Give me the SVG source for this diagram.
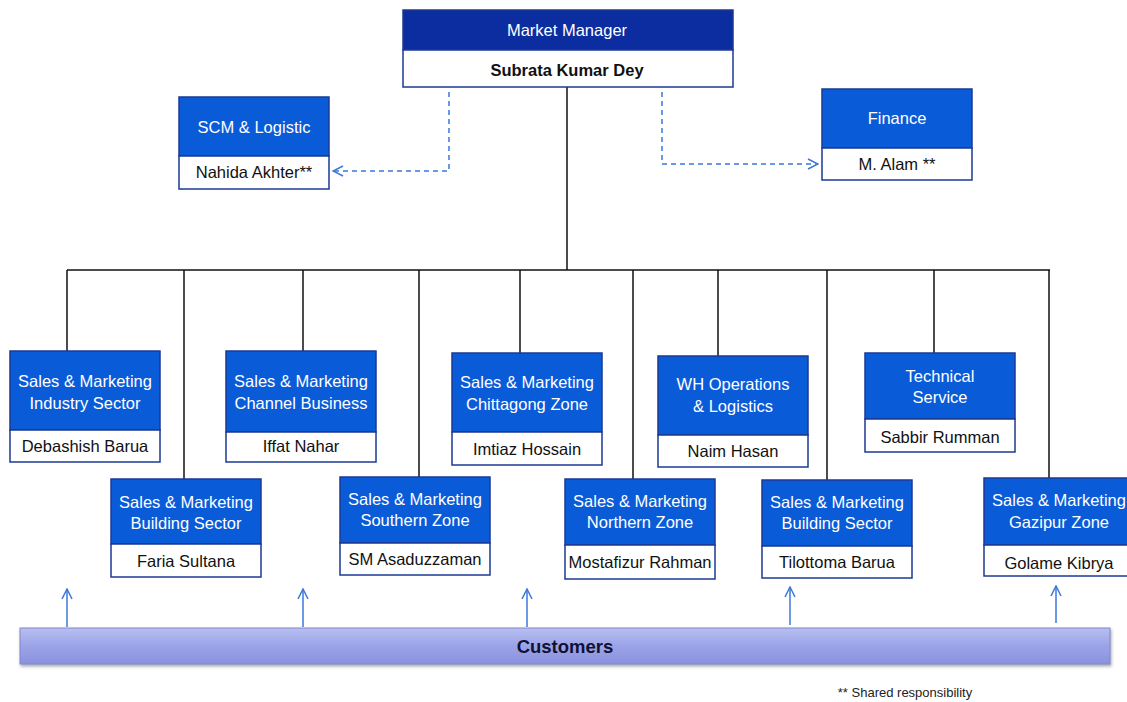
<svg xmlns="http://www.w3.org/2000/svg" width="1127" height="702" viewBox="0 0 1127 702">
<defs>
<style>
.hd{fill:#0a5bd8;stroke:#1b3a95;stroke-width:1.5}
.hd2{fill:#0b2d9f;stroke:#1b3a95;stroke-width:1.5}
.nm{fill:#ffffff;stroke:#1b3a95;stroke-width:1.5}
.t{font-family:"Liberation Sans",Arial,sans-serif;font-size:16.5px;fill:#ffffff;text-anchor:middle}
.n{font-family:"Liberation Sans",Arial,sans-serif;font-size:16.5px;fill:#111111;text-anchor:middle}
.ln{stroke:#111111;stroke-width:1.5;fill:none}
.dash{stroke:#3b78d8;stroke-width:1.5;fill:none;stroke-dasharray:5,4}
.up{stroke:#3b78d8;stroke-width:1.5;fill:none}
</style>
<marker id="open" viewBox="0 0 12 12" refX="11" refY="6" markerWidth="12" markerHeight="12" markerUnits="userSpaceOnUse" orient="auto">
<path d="M1,1 L11,6 L1,11" fill="none" stroke="#3b78d8" stroke-width="1.5"/>
</marker>
<linearGradient id="cust" x1="0" y1="0" x2="0" y2="1">
<stop offset="0" stop-color="#b8bff0"/>
<stop offset="0.5" stop-color="#9ba3e8"/>
<stop offset="1" stop-color="#8a92de"/>
</linearGradient>
<filter id="sh" x="-5%" y="-20%" width="110%" height="160%">
<feDropShadow dx="1" dy="2" stdDeviation="1.5" flood-color="#555" flood-opacity="0.5"/>
</filter>
</defs>
<rect width="1127" height="702" fill="#ffffff"/>

<g id="connectors">
<path class="ln" d="M567,87 V270"/>
<path class="ln" d="M67,270 H1050"/>
<path class="ln" d="M67,270 V351"/>
<path class="ln" d="M184,270 V479"/>
<path class="ln" d="M303,270 V351"/>
<path class="ln" d="M419,270 V477"/>
<path class="ln" d="M520,270 V353"/>
<path class="ln" d="M633,270 V479"/>
<path class="ln" d="M718,270 V356"/>
<path class="ln" d="M827,270 V480"/>
<path class="ln" d="M934,270 V353"/>
<path class="ln" d="M1049,270 V478"/>
<path class="dash" d="M449,92 V171 H333" marker-end="url(#open)"/>
<path class="dash" d="M662,92 V164 H818" marker-end="url(#open)"/>
<path class="up" d="M67,627 V589" marker-end="url(#open)"/>
<path class="up" d="M303,627 V589" marker-end="url(#open)"/>
<path class="up" d="M527,627 V589" marker-end="url(#open)"/>
<path class="up" d="M790,625 V587" marker-end="url(#open)"/>
<path class="up" d="M1056,623 V586" marker-end="url(#open)"/>
</g>

<g id="market-manager">
<rect class="hd2" x="403" y="10" width="330" height="40"/>
<rect class="nm" x="403" y="50" width="330" height="37"/>
<text class="t" x="567" y="36">Market Manager</text>
<text class="n" x="567" y="76" font-weight="bold">Subrata Kumar Dey</text>
</g>

<g id="scm">
<rect class="hd" x="179" y="97" width="150" height="59"/>
<rect class="nm" x="179" y="156" width="150" height="33"/>
<text class="t" x="254" y="133">SCM &amp; Logistic</text>
<text class="n" x="254" y="178">Nahida Akhter**</text>
</g>

<g id="finance">
<rect class="hd" x="822" y="89" width="150" height="59"/>
<rect class="nm" x="822" y="148" width="150" height="32"/>
<text class="t" x="897" y="124">Finance</text>
<text class="n" x="897" y="170">M. Alam **</text>
</g>

<g id="industry-sector">
<rect class="hd" x="10" y="351" width="150" height="79"/>
<rect class="nm" x="10" y="430" width="150" height="32"/>
<text class="t" x="85" y="387">Sales &amp; Marketing</text>
<text class="t" x="85" y="409">Industry Sector</text>
<text class="n" x="85" y="452">Debashish Barua</text>
</g>

<g id="building-sector-1">
<rect class="hd" x="111" y="479" width="150" height="65"/>
<rect class="nm" x="111" y="544" width="150" height="33"/>
<text class="t" x="186" y="508">Sales &amp; Marketing</text>
<text class="t" x="186" y="529">Building Sector</text>
<text class="n" x="186" y="567">Faria Sultana</text>
</g>

<g id="channel-business">
<rect class="hd" x="226" y="351" width="150" height="81"/>
<rect class="nm" x="226" y="432" width="150" height="30"/>
<text class="t" x="301" y="387">Sales &amp; Marketing</text>
<text class="t" x="301" y="409">Channel Business</text>
<text class="n" x="301" y="452">Iffat Nahar</text>
</g>

<g id="southern-zone">
<rect class="hd" x="340" y="477" width="150" height="66"/>
<rect class="nm" x="340" y="543" width="150" height="32"/>
<text class="t" x="415" y="505">Sales &amp; Marketing</text>
<text class="t" x="415" y="526">Southern Zone</text>
<text class="n" x="415" y="565">SM Asaduzzaman</text>
</g>

<g id="chittagong-zone">
<rect class="hd" x="452" y="353" width="150" height="79"/>
<rect class="nm" x="452" y="432" width="150" height="33"/>
<text class="t" x="527" y="388">Sales &amp; Marketing</text>
<text class="t" x="527" y="410">Chittagong Zone</text>
<text class="n" x="527" y="455">Imtiaz Hossain</text>
</g>

<g id="northern-zone">
<rect class="hd" x="565" y="479" width="150" height="66"/>
<rect class="nm" x="565" y="545" width="150" height="34"/>
<text class="t" x="640" y="507">Sales &amp; Marketing</text>
<text class="t" x="640" y="528">Northern Zone</text>
<text class="n" x="640" y="568">Mostafizur Rahman</text>
</g>

<g id="wh-operations">
<rect class="hd" x="658" y="356" width="150" height="79"/>
<rect class="nm" x="658" y="435" width="150" height="32"/>
<text class="t" x="733" y="390">WH Operations</text>
<text class="t" x="733" y="412">&amp; Logistics</text>
<text class="n" x="733" y="457">Naim Hasan</text>
</g>

<g id="building-sector-2">
<rect class="hd" x="762" y="480" width="150" height="66"/>
<rect class="nm" x="762" y="546" width="150" height="32"/>
<text class="t" x="837" y="508">Sales &amp; Marketing</text>
<text class="t" x="837" y="529">Building Sector</text>
<text class="n" x="837" y="568">Tilottoma Barua</text>
</g>

<g id="technical-service">
<rect class="hd" x="865" y="353" width="150" height="66"/>
<rect class="nm" x="865" y="419" width="150" height="33"/>
<text class="t" x="940" y="382">Technical</text>
<text class="t" x="940" y="403">Service</text>
<text class="n" x="940" y="443">Sabbir Rumman</text>
</g>

<g id="gazipur-zone">
<rect class="hd" x="984" y="478" width="150" height="67"/>
<rect class="nm" x="984" y="545" width="150" height="31"/>
<text class="t" x="1059" y="506">Sales &amp; Marketing</text>
<text class="t" x="1059" y="528">Gazipur Zone</text>
<text class="n" x="1059" y="569">Golame Kibrya</text>
</g>

<g id="customers">
<rect x="20" y="628" width="1090" height="36" fill="url(#cust)" stroke="#8088cc" stroke-width="1" filter="url(#sh)"/>
<text x="565" y="653" font-family="'Liberation Sans',Arial,sans-serif" font-size="18.5px" font-weight="bold" fill="#111133" text-anchor="middle">Customers</text>
</g>

<text x="905" y="697" font-family="'Liberation Sans',Arial,sans-serif" font-size="13px" fill="#222222" text-anchor="middle">** Shared responsibility</text>
</svg>
